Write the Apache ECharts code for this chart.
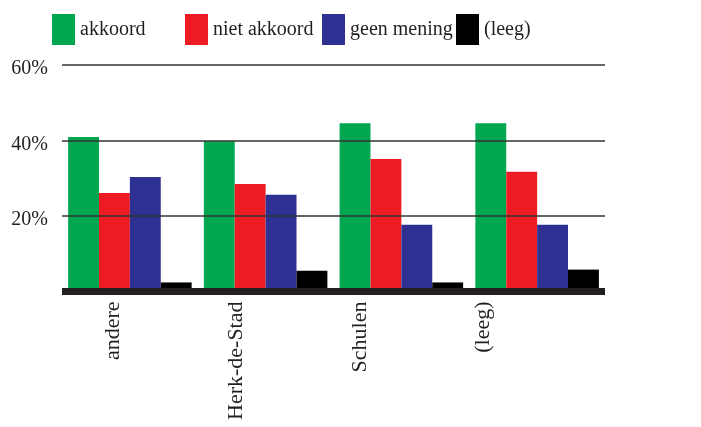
<!DOCTYPE html>
<html>
<head>
<meta charset="utf-8">
<script src="https://cdn.jsdelivr.net/npm/echarts@6/dist/echarts.min.js"></script>
<style>html,body{margin:0;padding:0;background:#fff}#c{width:701px;height:427px}</style>
</head>
<body>
<div id="c"></div>
<script>
var categories = ['andere', 'Herk-de-Stad', 'Schulen', '(leeg)'];
var seriesNames = ['akkoord', 'niet akkoord', 'geen mening', '(leeg)'];
var akkoord = [40.9, 39.8, 44.6, 44.6];
var nietAkkoord = [26.1, 28.5, 35.1, 31.7];
var geenMening = [30.3, 25.6, 17.7, 17.7];
var leeg = [2.4, 5.5, 2.4, 5.8];
var yTicks = [0, 20, 40, 60];
var colors = ['#00a650', '#ed1c24', '#2e3192', '#000000'];

var FONT = 'Liberation Serif';
var TXT = '#231f20';
var values = [akkoord, nietAkkoord, geenMening, leeg];
var legendLeft = [47, 180, 317, 451];

var chart = echarts.init(document.getElementById('c'), null, {renderer: 'canvas'});
chart.setOption({
  animation: false,
  backgroundColor: '#ffffff',
  legend: seriesNames.map(function (n, i) {
    return {
      data: [n], left: legendLeft[i], top: 9,
      itemWidth: 23, itemHeight: 31, itemGap: 5, icon: 'rect',
      textStyle: {fontFamily: FONT, fontSize: 20, color: TXT}
    };
  }),
  grid: [
    {left: 62, right: 96, top: 65, bottom: 135.5, containLabel: false},
    {left: 51, right: 156, top: 65, bottom: 135.5, containLabel: false}
  ],
  xAxis: [{
    type: 'category', data: categories, z: 10,
    axisLine: {lineStyle: {color: TXT, width: 7, cap: 'butt'}},
    axisTick: {show: false},
    axisLabel: {show: false}
  }, {
    type: 'category', data: categories, gridIndex: 1,
    axisLine: {show: false}, axisTick: {show: false},
    axisLabel: {rotate: 90, fontFamily: FONT, fontSize: 22, color: TXT, margin: 10}
  }],
  yAxis: [{
    type: 'value', min: yTicks[0], max: yTicks[yTicks.length - 1], interval: 20, z: 5,
    axisLine: {show: false}, axisTick: {show: false},
    splitLine: {lineStyle: {color: '#333333', width: 1.5}},
    axisLabel: {
      fontFamily: FONT, fontSize: 20, color: TXT, margin: 14,
      verticalAlign: 'top', lineHeight: 8,
      formatter: function (v) { return v === 0 ? '' : v + '%'; }
    }
  }, {
    type: 'value', gridIndex: 1, min: yTicks[0], max: yTicks[yTicks.length - 1], show: false
  }],
  series: seriesNames.map(function (n, i) {
    return {
      name: n, type: 'bar', data: values[i], z: 2,
      barGap: '0%', barCategoryGap: '9%',
      itemStyle: {color: colors[i]}
    };
  })
});
</script>
</body>
</html>
